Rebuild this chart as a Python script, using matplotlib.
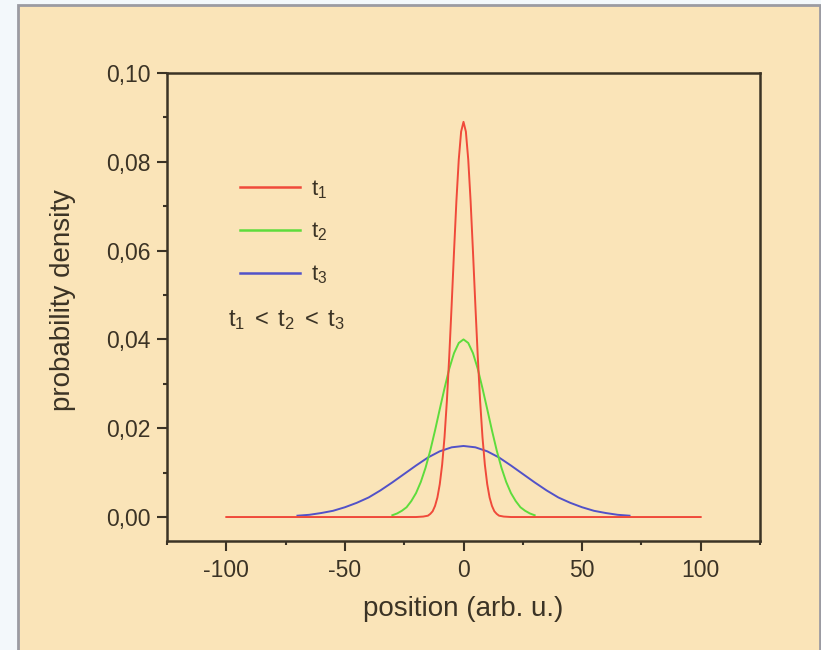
import matplotlib
matplotlib.use("Agg")
import matplotlib.pyplot as plt
from matplotlib.patches import Rectangle
from matplotlib.ticker import MultipleLocator, FuncFormatter

# probability density at three times (spreading wave packet)
x_t1 = [-100, -20, -17, -15, -14, -13, -12, -11, -10, -9, -8, -7, -6, -5, -4, -3, -2, -1, 0,
        1, 2, 3, 4, 5, 6, 7, 8, 9, 10, 11, 12, 13, 14, 15, 17, 20, 100]
p_t1 = [0.0, 0.0, 0.0001, 0.0003, 0.0007, 0.0013, 0.0025, 0.0044, 0.0074, 0.0118, 0.0180,
        0.0262, 0.0363, 0.0477, 0.0597, 0.0711, 0.0805, 0.0868, 0.0890,
        0.0868, 0.0805, 0.0711, 0.0597, 0.0477, 0.0363, 0.0262, 0.0180, 0.0118, 0.0074,
        0.0044, 0.0025, 0.0013, 0.0007, 0.0003, 0.0001, 0.0, 0.0]

x_t2 = [-30, -28, -26, -24, -22, -20, -18, -16, -14, -12, -10, -8, -6, -4, -2, 0,
        2, 4, 6, 8, 10, 12, 14, 16, 18, 20, 22, 24, 26, 28, 30]
p_t2 = [0.0004, 0.0008, 0.0014, 0.0022, 0.0036, 0.0054, 0.0079, 0.0111, 0.0150, 0.0195,
        0.0243, 0.0290, 0.0334, 0.0369, 0.0392, 0.0400,
        0.0392, 0.0369, 0.0334, 0.0290, 0.0243, 0.0195, 0.0150, 0.0111, 0.0079, 0.0054,
        0.0036, 0.0022, 0.0014, 0.0008, 0.0004]

x_t3 = [-70, -65, -60, -55, -50, -45, -40, -35, -30, -25, -20, -15, -10, -5, 0,
        5, 10, 15, 20, 25, 30, 35, 40, 45, 50, 55, 60, 65, 70]
p_t3 = [0.0003, 0.0005, 0.0009, 0.0014, 0.0022, 0.0032, 0.0044, 0.0060, 0.0078, 0.0097,
        0.0116, 0.0134, 0.0148, 0.0157, 0.0160,
        0.0157, 0.0148, 0.0134, 0.0116, 0.0097, 0.0078, 0.0060, 0.0044, 0.0032, 0.0022,
        0.0014, 0.0009, 0.0005, 0.0003]

series_labels = [r"$\mathregular{t_1}$", r"$\mathregular{t_2}$", r"$\mathregular{t_3}$"]
x_ticks = [-100, -50, 0, 50, 100]
y_ticks = [0.00, 0.02, 0.04, 0.06, 0.08, 0.10]

plt.rcParams["font.family"] = ["Liberation Sans", "DejaVu Sans"]
plt.rcParams["mathtext.fontset"] = "custom"
plt.rcParams["mathtext.rm"] = "Liberation Sans"

W, H = 821, 650
fig = plt.figure(figsize=(W / 100, H / 100), dpi=100)
fig.patch.set_facecolor("#F3F8FB")

panel_color = "#FAE4B8"
ink = "#3B3325"
panel = Rectangle((17.5 / W, -0.01), (802 / W), (645 / H) + 0.01,
                  transform=fig.transFigure, facecolor=panel_color,
                  edgecolor="#9B9BA2", linewidth=2.0, zorder=-5)
fig.add_artist(panel)

ax = fig.add_axes([167 / W, 1 - 541 / H, 593 / W, 468 / H])
ax.set_facecolor(panel_color)

c_red, c_green, c_blue = "#F04A3A", "#5EDC3C", "#5252C8"
h3, = ax.plot(x_t3, p_t3, color=c_blue, lw=1.4, zorder=2)
h2, = ax.plot(x_t2, p_t2, color=c_green, lw=1.4, zorder=3)
h1, = ax.plot(x_t1, p_t1, color=c_red, lw=1.4, zorder=4)

ax.set_xlim(-125, 125)
ax.set_ylim(-0.0054, 0.10)
ax.set_xticks(x_ticks)
ax.set_yticks(y_ticks)
ax.xaxis.set_minor_locator(MultipleLocator(25))
ax.yaxis.set_minor_locator(MultipleLocator(0.01))
ax.yaxis.set_major_formatter(FuncFormatter(lambda v, p: f"{v:.2f}".replace(".", ",")))
ax.xaxis.set_major_formatter(FuncFormatter(lambda v, p: f"{v:.0f}"))

for s in ax.spines.values():
    s.set_color(ink)
    s.set_linewidth(1.8)
ax.tick_params(which="both", direction="out", color=ink, width=1.5,
               top=False, right=False, labelcolor=ink, labelsize=16.5)
ax.tick_params(which="major", length=7, pad=5)
ax.tick_params(axis="x", which="major", pad=6)
ax.tick_params(which="minor", length=3)

ax.set_xlabel("position (arb. u.)", fontsize=20, color=ink, labelpad=10)
ax.set_ylabel("probability density", fontsize=20, color=ink)
ax.yaxis.set_label_coords(-0.153, 0.515)

leg = ax.legend([h1, h2, h3], series_labels, loc="upper left",
                bbox_to_anchor=(0.090, 0.818), frameon=False, fontsize=16,
                handlelength=2.7, handletextpad=0.5, labelspacing=0.9,
                labelcolor=ink)
for ln in leg.get_lines():
    ln.set_linewidth(1.8)

ax.text((228 - 167) / 593, 1 - (320 - 73) / 468,
        r"$\mathregular{t_1\:<\:t_2\:<\:t_3}$", transform=ax.transAxes,
        fontsize=17, color=ink, ha="left", va="center")

fig.savefig("out.png", dpi=100, facecolor=fig.get_facecolor())
